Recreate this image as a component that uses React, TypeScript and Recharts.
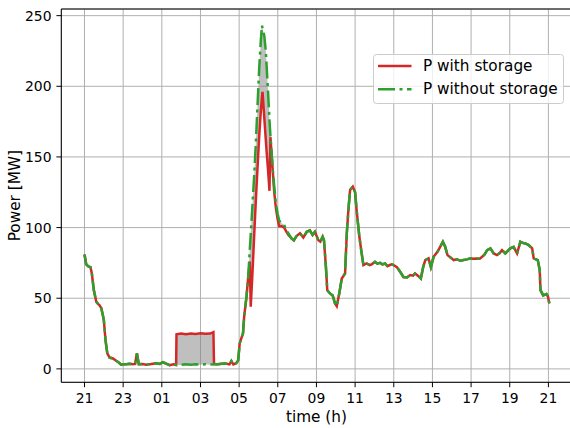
import React from 'react';
import { ComposedChart, Line, Area, XAxis, YAxis, CartesianGrid, ReferenceLine, Legend } from 'recharts';

// time axis: hours after 21:00
const hours = [
  0.0, 0.09, 0.2, 0.31, 0.38, 0.48, 0.61, 0.7, 0.78, 0.87,
  0.95, 1.0, 1.09, 1.18, 1.3, 1.47, 1.64, 1.77, 1.9, 2.03,
  2.16, 2.33, 2.5, 2.62, 2.71, 2.81, 3.0, 3.2, 3.45, 3.72,
  3.9, 4.06, 4.25, 4.41, 4.6, 4.74, 4.76, 5.0, 5.25, 5.5,
  5.75, 6.0, 6.25, 6.5, 6.67, 6.7, 6.9, 7.1, 7.3, 7.5,
  7.6, 7.7, 7.85, 7.95, 8.03, 8.12, 8.2, 8.26, 8.38, 8.47,
  8.55, 8.6, 8.69, 8.78, 8.86, 8.95, 9.04, 9.12, 9.18, 9.21,
  9.3, 9.38, 9.42, 9.5, 9.57, 9.62, 9.73, 9.81, 9.9, 9.99,
  10.07, 10.19, 10.33, 10.45, 10.54, 10.71, 10.83, 10.97, 11.15, 11.32,
  11.5, 11.66, 11.8, 11.92, 12.1, 12.2, 12.32, 12.39, 12.49, 12.56,
  12.7, 12.84, 12.96, 13.05, 13.18, 13.31, 13.48, 13.57, 13.65, 13.74,
  13.88, 14.0, 14.08, 14.22, 14.34, 14.43, 14.6, 14.75, 14.86, 15.03,
  15.15, 15.29, 15.42, 15.55, 15.67, 15.8, 15.9, 16.05, 16.16, 16.33,
  16.5, 16.68, 16.85, 17.0, 17.1, 17.28, 17.4, 17.52, 17.63, 17.8,
  17.92, 18.06, 18.26, 18.4, 18.54, 18.66, 18.78, 19.0, 19.1, 19.27,
  19.45, 19.61, 19.79, 19.96, 20.1, 20.3, 20.45, 20.57, 20.7, 20.83,
  21.0, 21.17, 21.34, 21.48, 21.6, 21.77, 21.9, 22.03, 22.2, 22.38,
  22.55, 22.7, 22.81, 22.98, 23.16, 23.24, 23.45, 23.55, 23.59, 23.73,
  23.9, 23.97, 24.05,
];

// P with storage [MW]
const pWithStorage = [
  81, 74, 72.5, 72, 67.5, 56, 47.5, 46, 45, 43,
  38, 34.5, 20, 11, 8, 7.4, 5.7, 4.5, 3, 3.2,
  3.3, 3.6, 3.3, 3.5, 11, 3.3, 3.4, 3, 3.4, 4,
  3.5, 4.7, 3.6, 2.6, 3.3, 2.8, 24.5, 25, 24.6, 25,
  24.7, 25.2, 24.8, 25, 26, 3.4, 3.2, 3.6, 3.8, 3.2,
  5.5, 3.1, 4, 6, 18, 22, 25, 37, 51, 65,
  76, 44, 68, 95, 118, 142, 165, 182, 192, 196,
  178, 162, 154, 140, 126, 164, 142, 126, 114, 106,
  101, 101, 100, 97, 95, 92.3, 91, 94, 96, 93,
  97, 98, 94.7, 97, 91, 90, 93.5, 91, 72, 55.7,
  53.4, 52, 46.3, 44.4, 53.4, 64, 67.5, 96, 112, 126.6,
  129, 125, 112, 93.5, 81.7, 73.4, 74.6, 73.5, 74, 75.8,
  74.5, 75, 74, 74.6, 72.7, 73.5, 74, 73, 72, 68.7,
  65, 64.7, 66.4, 66, 67.5, 65.6, 64, 72, 77, 78.2,
  72, 79.3, 82.9, 86.4, 90, 86.4, 80.5, 78.2, 77, 77.5,
  76.5, 77, 77.5, 78.2, 78, 78.2, 78, 79.3, 81, 84,
  85.3, 81.7, 80.5, 82, 84, 81.7, 83.5, 85.3, 86.4, 81.7,
  90, 89, 88.8, 87.6, 85.3, 78.2, 77, 70, 55.7, 52,
  52.9, 51.5, 46.3,
];

// P without storage [MW]
const pWithoutStorage = [
  81, 74, 72.5, 72, 67.5, 56, 47.5, 46, 45, 43,
  38, 34.5, 20, 11, 8, 7.4, 5.7, 4.5, 3, 3.2,
  3.3, 3.6, 3.3, 3.5, 11, 3.3, 3.4, 3, 3.4, 4,
  3.5, 4.7, 3.6, 2.6, 3.3, 2.8, 3.0, 2.8, 3.3, 3.0,
  3.2, 2.9, 3.3, 3.0, 3.2, 3.4, 3.2, 3.6, 3.8, 3.2,
  5.5, 3.1, 4, 6, 18, 22, 25, 37, 51, 65,
  84, 95, 116, 137, 158.6, 186, 213, 232, 243, 241,
  236, 225, 215, 195, 176, 165, 143, 130, 117, 110,
  105, 103, 102, 98, 96, 92.3, 91, 94, 96, 93,
  97, 98, 94.7, 97, 91, 90, 93.5, 91, 72, 55.7,
  53.4, 52, 46.3, 44.4, 53.4, 64, 67.5, 96, 112, 126.6,
  129, 125, 112, 93.5, 81.7, 73.4, 74.6, 73.5, 74, 75.8,
  74.5, 75, 74, 74.6, 72.7, 73.5, 74, 73, 72, 68.7,
  65, 64.7, 66.4, 66, 67.5, 65.6, 64, 72, 77, 78.2,
  72, 79.3, 82.9, 86.4, 90, 86.4, 80.5, 78.2, 77, 77.5,
  76.5, 77, 77.5, 78.2, 78, 78.2, 78, 79.3, 81, 84,
  85.3, 81.7, 80.5, 82, 84, 81.7, 83.5, 85.3, 86.4, 81.7,
  90, 89, 88.8, 87.6, 85.3, 78.2, 77, 70, 55.7, 52,
  52.9, 51.5, 46.3,
];

const hourTicks = [0, 2, 4, 6, 8, 10, 12, 14, 16, 18, 20, 22, 24];
const hourLabels = ['21', '23', '01', '03', '05', '07', '09', '11', '13', '15', '17', '19', '21'];
const powerTicks = [0, 50, 100, 150, 200, 250];

const X_DOMAIN: [number, number] = [-1.2, 25.2];
const Y_DOMAIN: [number, number] = [-9.5, 254.7];

const RED = '#d62728';
const GREEN = '#2ca02c';
const FONT = '"DejaVu Sans", sans-serif';
const DASH_DOT = '17 4.5 3 4.5';

const chartData = hours.map((t, i) => ({
  t,
  withStorage: pWithStorage[i],
  withoutStorage: pWithoutStorage[i],
  band: [Math.min(pWithStorage[i], pWithoutStorage[i]), Math.max(pWithStorage[i], pWithoutStorage[i])],
}));

const LegendBox = () => (
  <svg width={192} height={51} style={{ display: 'block' }}>
    <rect x={0.5} y={0.5} width={190} height={49} rx={3} fill="#fff" fillOpacity={0.8} stroke="#cccccc" />
    <line x1={5} x2={38.5} y1={12} y2={12} stroke={RED} strokeWidth={2.5} />
    <text x={50} y={12} dominantBaseline="central" fontSize={15.3} fontFamily={FONT} fill="#000">
      P with storage
    </text>
    <line x1={5} x2={38.5} y1={35.3} y2={35.3} stroke={GREEN} strokeWidth={2.5} strokeDasharray={DASH_DOT} />
    <text x={50} y={35.3} dominantBaseline="central" fontSize={15.3} fontFamily={FONT} fill="#000">
      P without storage
    </text>
  </svg>
);

const PowerLabel = ({ viewBox }: any) => (
  <text
    x={0}
    y={0}
    transform={`translate(19.5, ${viewBox.y + viewBox.height / 2}) rotate(-90)`}
    textAnchor="middle"
    fontSize={15.3}
    fontFamily={FONT}
    fill="#000"
  >
    Power [MW]
  </text>
);

const App: React.FC = () => {
  return (
    <div style={{ position: 'absolute', left: 0, top: 0, width: 570, height: 428, overflow: 'hidden', background: '#fff' }}>
      <ComposedChart width={574} height={428} data={chartData} margin={{ top: 9, right: 2.4, left: 11.3, bottom: 0 }}>
        <CartesianGrid stroke="#b0b0b0" strokeWidth={1} />
        <XAxis
          dataKey="t"
          type="number"
          domain={X_DOMAIN}
          allowDataOverflow
          ticks={hourTicks}
          tickFormatter={(v: number) => hourLabels[hourTicks.indexOf(v)]}
          stroke="#000"
          tickSize={4.9}
          tickMargin={6.2}
          height={45.7}
          tick={{ fill: '#000', fontSize: 13.9, fontFamily: FONT }}
          label={{ value: 'time (h)', position: 'insideBottom', offset: 6, fill: '#000', fontSize: 15.3, fontFamily: FONT }}
        />
        <YAxis
          type="number"
          domain={Y_DOMAIN}
          allowDataOverflow
          ticks={powerTicks}
          stroke="#000"
          tickSize={4.9}
          tickMargin={4.9}
          width={50}
          tick={{ fill: '#000', fontSize: 13.9, fontFamily: FONT }}
          label={<PowerLabel />}
        />
        <ReferenceLine y={Y_DOMAIN[1]} stroke="#000" strokeWidth={1} />
        <ReferenceLine x={X_DOMAIN[1]} stroke="#000" strokeWidth={1} />
        <Area
          type="linear"
          dataKey="band"
          fill="#808080"
          fillOpacity={0.5}
          stroke="none"
          isAnimationActive={false}
          activeDot={false}
        />
        <Line
          type="linear"
          dataKey="withStorage"
          stroke={RED}
          strokeWidth={2.5}
          dot={false}
          activeDot={false}
          isAnimationActive={false}
        />
        <Line
          type="linear"
          dataKey="withoutStorage"
          stroke={GREEN}
          strokeWidth={2.5}
          strokeDasharray={DASH_DOT}
          dot={false}
          activeDot={false}
          isAnimationActive={false}
        />
        <Legend
          layout="vertical"
          align="center"
          verticalAlign="middle"
          content={<LegendBox />}
          wrapperStyle={{ left: 373, top: 54, width: 192, height: 51 }}
        />
      </ComposedChart>
    </div>
  );
};

export default App;
